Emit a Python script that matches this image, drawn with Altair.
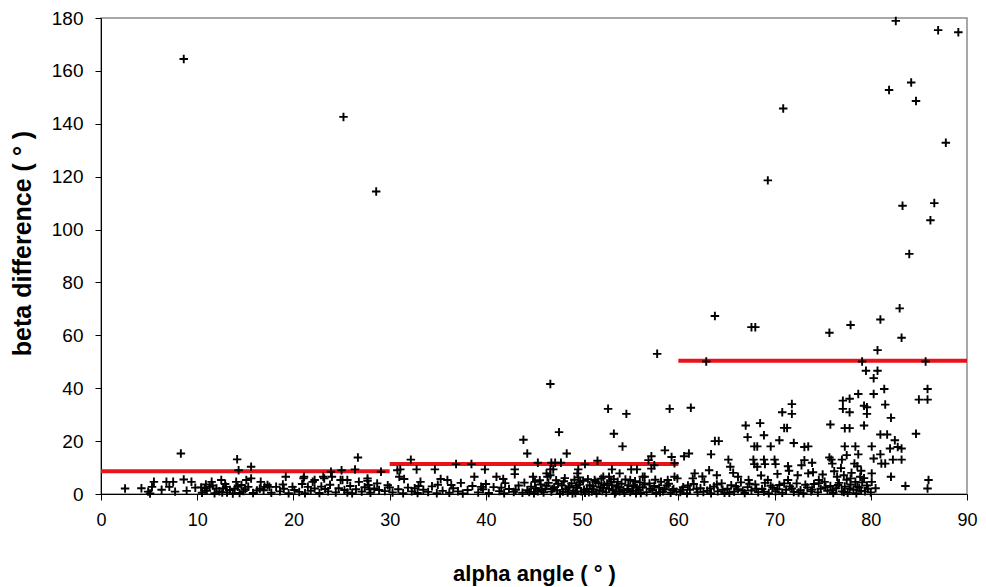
import altair as alt
import pandas as pd

# ---- data: (alpha angle, beta difference) ----
band_0_30 = [
    (2.5, 2.1), (4.2, 2.2), (4.9, 0.9), (5.5, 4.6), (5.3, 2.7), (5.1, 0.2), (6.8, 4.6), (7.5, 4.6),
    (7.1, 2.7), (7.7, 0.9), (8.6, 5.5), (9.4, 4.6), (8.3, 15.3), (6.3, 1.6), (8.9, 1.2), (9.8, 2.4),
    (10.4, 2.5), (10.8, 2.1), (11.3, 2.7), (11.5, 4.6), (12.0, 2.1), (12.5, 5.3), (12.7, 2.1), (13.0, 2.7),
    (13.4, 1.5), (14.05, 4.6), (14.2, 2.7), (14.6, 3.4), (15.1, 5.3), (15.3, 2.7), (15.6, 5.9), (14.15, 13.1),
    (14.3, 9.0), (15.6, 10.3), (16.6, 4.6), (17.0, 2.7), (17.3, 3.4), (18.2, 2.7), (19.2, 6.5), (19.9, 2.7),
    (20.1, 1.5), (21.05, 5.9), (21.5, 2.7), (22.0, 4.6), (22.2, 2.1), (23.2, 5.9), (23.9, 8.4), (24.0, 6.5),
    (25.0, 9.0), (24.9, 5.3), (25.6, 5.3), (26.4, 9.3), (26.7, 13.8), (26.8, 4.6), (27.7, 5.9), (27.8, 3.4),
    (28.4, 2.1), (28.9, 1.5), (29.1, 8.4), (30.0, 2.5), (10.5, 0.5), (11.0, 1.2), (11.8, 0.3), (12.3, 1.0),
    (13.1, 0.6), (13.7, 0.2), (14.8, 1.1), (15.8, 0.4), (16.2, 1.3), (17.7, 0.5), (18.6, 1.0), (19.5, 0.3),
    (20.6, 0.8), (21.8, 1.2), (22.7, 0.4), (23.6, 1.0), (24.4, 0.6), (25.3, 1.5), (26.1, 0.3), (27.1, 0.9),
    (28.0, 0.5), (29.5, 1.1), (11.6, 3.2), (12.9, 3.8), (13.9, 2.0), (15.0, 1.8), (16.5, 2.0), (18.9, 3.6),
    (20.9, 3.8), (22.9, 2.8), (23.8, 3.5), (24.7, 2.2), (25.9, 3.0), (26.5, 1.8), (27.4, 2.6), (28.7, 4.0),
    (21.1, 6.5), (23.1, 6.5), (22.2, 5.3), (25.1, 5.3), (27.7, 5.0), (17.5, 2.7),
    (10.9, 3.6), (12.6, 0.6), (14.4, 0.4), (16.9, 1.4), (19.0, 2.0), (21.2, 0.3), (23.3, 1.9), (25.6, 0.6),
    (27.9, 1.8), (29.8, 3.3),
]
outliers_0_30 = [(8.6, 164.5), (25.2, 142.6), (28.6, 114.4)]

band_30_60 = [
    (30.8, 9.0), (31.1, 9.3), (32.2, 13.0), (32.8, 9.3), (34.7, 9.3), (36.9, 11.3), (38.5, 11.3), (39.9, 9.3),
    (43.0, 9.3), (43.0, 7.5), (43.9, 20.5), (44.3, 15.3), (45.4, 11.8), (46.8, 11.8), (47.2, 11.8), (46.7, 9.3),
    (47.0, 9.3), (46.7, 7.1), (46.4, 6.5), (47.8, 11.8), (46.7, 41.6), (47.6, 23.4), (48.4, 15.3), (50.3, 11.3),
    (51.6, 12.6), (49.6, 9.3), (49.5, 7.8), (52.7, 32.2), (54.6, 30.3), (59.1, 32.2), (53.3, 22.8), (54.2, 18.0),
    (57.8, 53.0), (58.6, 16.5), (59.3, 14.0), (59.6, 11.6), (56.9, 12.8), (57.2, 14.3), (57.2, 9.6), (57.5, 10.9),
    (53.1, 9.3), (53.9, 7.8), (55.1, 9.3), (55.7, 9.3), (56.5, 6.5), (52.8, 6.5), (53.7, 4.6), (58.9, 5.3),
    (59.6, 6.5), (31.0, 6.5), (31.5, 5.7), (33.2, 4.6), (35.3, 5.7), (36.0, 5.3), (38.8, 6.5), (41.1, 6.5),
    (41.8, 5.7), (44.9, 6.5), (45.1, 4.6), (52.2, 6.5), (55.0, 5.3), (56.3, 6.5), (59.9, 5.9), (49.6, 6.3),
    (46.3, 7.8),
]
floor_30_60 = [
    (30.3, 0.6), (30.9, 1.8), (31.4, 0.3), (31.9, 2.4), (32.3, 1.0), (32.9, 0.4), (33.5, 1.6), (34.0, 0.8),
    (34.4, 2.9), (34.9, 0.3), (35.5, 1.2), (36.2, 0.5), (36.6, 2.2), (37.1, 1.0), (37.6, 0.2), (38.1, 1.5),
    (38.6, 3.0), (39.2, 0.6), (39.7, 1.8), (40.3, 0.4), (40.8, 2.6), (41.4, 1.1), (41.9, 0.3), (42.4, 1.9),
    (42.9, 0.8), (43.4, 3.2), (43.8, 0.5), (44.3, 1.4), (44.7, 2.8), (45.0, 0.3), (45.4, 1.0), (45.7, 3.6),
    (46.0, 0.6), (46.2, 2.0), (46.5, 4.2), (46.8, 0.9), (47.1, 2.6), (47.4, 1.4), (47.7, 0.2), (47.9, 3.2),
    (48.1, 4.8), (48.3, 1.8), (48.5, 0.6), (48.7, 2.9), (48.9, 4.0), (49.1, 1.2), (49.3, 0.4), (49.5, 2.3),
    (49.7, 3.6), (49.9, 1.0), (50.1, 5.0), (50.3, 0.5), (50.5, 2.0), (50.8, 3.3), (51.0, 0.9), (51.2, 1.8),
    (51.5, 0.3), (51.7, 4.1), (51.9, 2.6), (52.1, 1.1), (52.3, 3.4), (52.5, 0.6), (52.8, 2.0), (53.0, 4.6),
    (53.2, 1.4), (53.4, 0.2), (53.6, 2.9), (53.9, 1.0), (54.1, 3.9), (54.4, 0.5), (54.7, 1.9), (55.0, 0.8),
    (55.3, 3.0), (55.6, 0.3), (55.9, 1.6), (56.3, 2.6), (56.7, 0.7), (57.0, 4.0), (57.3, 1.3), (57.7, 0.4),
    (58.0, 2.4), (58.4, 1.0), (58.8, 3.2), (59.2, 0.5), (59.5, 1.9), (59.8, 0.9), (45.6, 5.2), (48.2, 6.0),
    (50.6, 5.6), (52.0, 5.8), (54.5, 5.5), (56.0, 4.4), (58.2, 4.6), (44.0, 4.3), (42.0, 4.1), (40.0, 3.8),
    (37.4, 4.2), (35.0, 3.5), (33.0, 3.0), (32.6, 2.2), (36.4, 3.4), (39.5, 2.7), (41.6, 2.4), (43.1, 1.6),
    (44.5, 0.8), (45.2, 2.2), (45.8, 1.5), (46.3, 3.1), (46.9, 1.9), (47.5, 3.9), (48.0, 0.9), (48.6, 2.4),
    (49.0, 0.2), (49.4, 3.1), (49.8, 4.5), (50.2, 1.6), (50.7, 0.7), (51.1, 2.9), (51.4, 4.6), (51.8, 1.3),
    (52.2, 2.3), (52.6, 4.0), (53.1, 3.3), (53.5, 0.8), (53.8, 2.3), (54.3, 1.5), (54.8, 3.3), (55.2, 1.2),
    (55.7, 2.3), (56.1, 0.4), (56.5, 3.6), (57.1, 2.0), (57.5, 3.0), (58.1, 0.7), (58.6, 1.8), (59.0, 3.9),
    (59.4, 1.4), (47.3, 5.2), (49.2, 5.4), (51.3, 5.3), (53.3, 5.6), (55.5, 4.8), (57.6, 5.4),
]

band_60_90 = [
    (60.6, 14.3), (61.1, 15.3), (61.3, 32.6), (62.9, 50.1), (63.8, 67.3), (63.4, 15.0), (63.8, 20.0), (64.2, 20.0),
    (65.2, 13.0), (65.4, 10.3), (67.0, 25.9), (67.2, 21.5), (67.6, 63.1), (68.0, 63.1), (67.9, 18.0), (68.2, 18.0),
    (68.5, 26.8), (68.9, 22.2), (69.6, 18.0), (70.5, 20.3), (70.8, 30.9), (71.0, 25.0), (71.3, 25.0), (71.8, 34.0),
    (71.8, 30.3), (72.0, 19.3), (73.1, 17.8), (73.5, 18.0), (67.8, 13.0), (67.9, 11.3), (68.2, 10.3), (68.9, 13.0),
    (69.0, 11.3), (70.0, 13.0), (70.1, 11.3), (71.4, 10.5), (71.5, 8.8), (72.8, 10.9), (73.1, 12.8), (73.9, 11.8),
    (73.5, 7.8), (61.7, 7.8), (61.5, 5.9), (63.2, 9.0), (64.0, 7.1), (66.2, 6.5), (67.3, 5.3), (69.3, 5.3),
    (71.4, 5.3), (72.4, 7.1), (74.6, 5.3), (76.5, 6.5), (77.2, 7.1), (77.9, 5.9), (78.9, 6.5), (78.6, 2.8),
    (75.7, 61.0), (77.9, 63.9), (81.0, 66.0), (83.0, 70.2), (83.2, 59.1), (80.7, 54.4), (79.1, 50.1), (85.7, 50.1),
    (79.5, 46.6), (80.7, 46.6), (80.3, 43.8), (81.4, 39.7), (80.3, 37.8), (78.7, 37.8), (77.1, 35.3), (77.8, 36.0),
    (77.1, 32.2), (77.8, 30.9), (79.3, 33.4), (79.6, 32.8), (79.6, 30.3), (81.5, 33.8), (82.1, 28.8), (79.3, 25.9),
    (85.9, 39.7), (85.0, 35.7), (85.9, 35.7), (75.8, 26.3), (77.3, 24.9), (77.8, 24.9), (81.0, 22.5), (81.7, 22.5),
    (84.7, 22.8), (82.5, 20.3), (82.8, 17.8), (82.0, 17.2), (83.2, 17.2), (80.1, 18.0), (77.3, 18.0), (78.4, 18.0),
    (77.5, 14.7), (78.7, 15.0), (80.3, 13.4), (81.0, 15.0), (81.1, 11.5), (82.3, 13.0), (83.2, 13.0), (81.5, 11.5),
    (75.7, 13.8), (75.9, 13.0), (77.0, 13.0), (78.3, 11.5), (78.6, 10.5), (80.1, 7.8), (80.1, 4.6), (82.1, 6.5),
    (83.6, 3.0), (86.0, 5.3), (85.9, 2.1), (76.0, 11.5),
]
outliers_60_90 = [
    (69.3, 118.6), (70.9, 145.8), (81.9, 152.8), (82.6, 178.9), (83.3, 109.0), (84.2, 155.6), (84.7, 148.6),
    (84.0, 90.8), (86.6, 110.0), (86.2, 103.5), (87.0, 175.4), (87.8, 132.8), (89.1, 174.6),
]
floor_60_90 = [
    (60.2, 0.8), (60.5, 2.6), (60.9, 0.3), (61.2, 1.6), (61.6, 3.8), (62.0, 0.6), (62.3, 2.2), (62.7, 4.6),
    (63.0, 1.2), (63.4, 0.3), (63.7, 2.8), (64.1, 1.0), (64.5, 4.0), (64.8, 0.5), (65.1, 2.0), (65.5, 3.3),
    (65.8, 0.9), (66.2, 1.8), (66.5, 4.4), (66.9, 0.4), (67.2, 2.6), (67.6, 1.3), (68.0, 3.6), (68.3, 0.7),
    (68.7, 1.9), (69.0, 4.2), (69.4, 0.3), (69.8, 2.4), (70.1, 1.0), (70.5, 3.4), (70.8, 0.5), (71.2, 1.6),
    (71.6, 2.9), (72.0, 0.8), (72.3, 4.0), (72.7, 1.4), (73.0, 0.3), (73.4, 2.5), (73.8, 1.0), (74.1, 3.8),
    (74.5, 0.6), (74.8, 2.0), (75.2, 4.6), (75.5, 1.2), (75.8, 3.0), (76.1, 0.4), (76.4, 2.2), (76.7, 4.2),
    (77.0, 1.0), (77.3, 2.8), (77.6, 0.5), (77.9, 3.6), (78.2, 1.6), (78.5, 0.3), (78.8, 2.4), (79.1, 4.4),
    (79.4, 1.0), (79.7, 2.0), (75.0, 7.4), (76.2, 8.6), (74.0, 8.2), (70.3, 7.6), (65.7, 8.0), (62.5, 6.6),
    (68.6, 7.0), (79.0, 8.8), (76.9, 9.8), (78.0, 8.0),
    (60.4, 1.6), (61.0, 3.2), (61.9, 2.0), (62.6, 0.8), (63.3, 2.1), (64.0, 3.6), (64.6, 1.6), (65.3, 0.5),
    (66.0, 2.8), (66.7, 1.2), (67.4, 3.9), (68.1, 2.0), (68.9, 0.9), (69.6, 3.1), (70.3, 1.8), (71.0, 4.0),
    (71.8, 2.1), (72.5, 0.6), (73.2, 3.5), (73.9, 1.7), (74.6, 4.1), (75.3, 2.6), (76.0, 1.4), (76.6, 3.4),
    (77.2, 0.8), (77.8, 2.1), (78.4, 4.6), (79.0, 1.2), (79.6, 3.2), (80.0, 0.6), (80.5, 2.2), (79.3, 6.0),
    (77.5, 5.4),
]

# class means (red bars)
bin_start = [0, 30, 60]
bin_end = [30, 60, 90]
bin_mean = [8.6, 11.3, 50.4]

x_ticks = list(range(0, 91, 10))
y_ticks = list(range(0, 181, 20))

points = (band_0_30 + outliers_0_30 + band_30_60 + floor_30_60
          + band_60_90 + outliers_60_90 + floor_60_90)
df = pd.DataFrame(points, columns=["alpha", "beta"])
means = pd.DataFrame({"start": bin_start, "end": bin_end, "mean": bin_mean})

FONT = "Liberation Sans"

x_scale = alt.Scale(domain=[0, 90], nice=False, zero=False)
y_scale = alt.Scale(domain=[0, 180], nice=False, zero=False)

x_axis = alt.Axis(
    title="alpha angle ( ° )", values=x_ticks, grid=False, format="d",
    domainColor="black", domainWidth=1, tickColor="black", tickSize=6, tickWidth=1,
    labelFont=FONT, labelFontSize=18, labelColor="black", labelPadding=11, labelFlush=False,
    titleFont=FONT, titleFontSize=22, titleFontWeight="bold", titleColor="black",
    titleY=79, titleBaseline="middle",
)
y_axis = alt.Axis(
    title="beta difference ( ° )", values=y_ticks, grid=False, format="d",
    domainColor="black", domainWidth=1, tickColor="black", tickSize=6, tickWidth=1,
    labelFont=FONT, labelFontSize=19, labelColor="black", labelPadding=12, labelFlush=False,
    titleFont=FONT, titleFontSize=25, titleFontWeight="bold", titleColor="black",
    titleX=-79, titleY=225, titleAngle=270, titleAlign="center", titleBaseline="middle",
)

rules = alt.Chart(means).mark_rule(color="#e8121a", strokeWidth=4).encode(
    x=alt.X("start:Q", scale=x_scale, axis=x_axis),
    x2="end:Q",
    y=alt.Y("mean:Q", scale=y_scale, axis=y_axis),
)

pts = alt.Chart(df).mark_point(
    shape="M-1,0H1M0,-1V1", filled=False, color="black", strokeWidth=1.9, size=72, opacity=1,
).encode(
    x=alt.X("alpha:Q", scale=x_scale, axis=x_axis),
    y=alt.Y("beta:Q", scale=y_scale, axis=y_axis),
)

chart = alt.layer(rules, pts).properties(
    width=866, height=476,
    padding={"left": 93, "top": 10, "right": 11, "bottom": 92},
    autosize=alt.AutoSizeParams(type="none"),
    background="white",
).configure_view(stroke="#8c8c8c", strokeWidth=1.5)

chart.save("out.html", embed_options={"renderer": "svg", "actions": False})
